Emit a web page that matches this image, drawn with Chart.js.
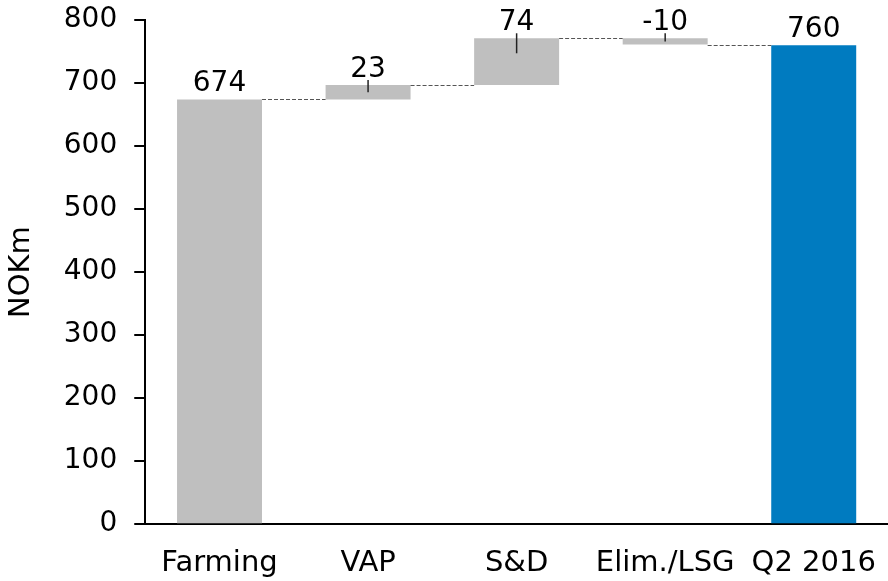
<!DOCTYPE html>
<html>
<head>
<meta charset="utf-8">
<script src="https://cdn.jsdelivr.net/npm/chart.js@4"></script>
<style>
  html, body { margin: 0; padding: 0; background: #fff; }
  #wrap { width: 888px; height: 581px; }
</style>
</head>
<body>
<div id="wrap"><canvas id="chart" width="888" height="581"></canvas></div>
<script>
// waterfall data
const categories = ['Farming', 'VAP', 'S&D', 'Elim./LSG', 'Q2 2016'];
const values = [674, 23, 74, -10, 760];
const isTotal = [true, false, false, false, true];
const barColors = ['#BFBFBF', '#BFBFBF', '#BFBFBF', '#BFBFBF', '#007BC0'];
const yTicks = [0, 100, 200, 300, 400, 500, 600, 700, 800];

const FONT = "'DejaVu Sans', sans-serif";

// build floating ranges from the running total
let running = 0;
const ranges = values.map((v, i) => {
  if (isTotal[i]) { running = v; return [0, v]; }
  const r = [running, running + v];
  running += v;
  return r;
});
const levels = ranges.map((r, i) => isTotal[i] ? r[1] : r[0] + values[i]);

const waterfallExtras = {
  id: 'waterfallExtras',
  afterDatasetsDraw(chart) {
    const ctx = chart.ctx;
    const y = chart.scales.y;
    const bars = chart.getDatasetMeta(0).data;
    ctx.save();
    // dashed connectors
    ctx.strokeStyle = '#555';
    ctx.lineWidth = 1;
    ctx.setLineDash([4, 2]);
    for (let i = 0; i < bars.length - 1; i++) {
      const yy = Math.round(y.getPixelForValue(levels[i])) + 0.5;
      ctx.beginPath();
      ctx.moveTo(bars[i].x + bars[i].width / 2, yy);
      ctx.lineTo(bars[i + 1].x - bars[i + 1].width / 2, yy);
      ctx.stroke();
    }
    ctx.setLineDash([]);
    // labels + small leader lines
    ctx.fillStyle = '#000';
    ctx.font = '28px ' + FONT;
    ctx.textAlign = 'center';
    ctx.textBaseline = 'alphabetic';
    bars.forEach((b, i) => {
      const top = y.getPixelForValue(Math.max(ranges[i][0], ranges[i][1]));
      const bot = y.getPixelForValue(Math.min(ranges[i][0], ranges[i][1]));
      if (!isTotal[i]) {
        const h = bot - top;
        ctx.strokeStyle = '#222';
        ctx.lineWidth = 1.5;
        ctx.beginPath();
        ctx.moveTo(b.x, top - 5);
        ctx.lineTo(b.x, top + Math.min(15, h / 2));
        ctx.stroke();
      }
      ctx.fillText(String(values[i]), b.x, top - 8);
    });
    ctx.restore();
  }
};

new Chart(document.getElementById('chart'), {
  type: 'bar',
  data: {
    labels: categories,
    datasets: [{
      data: ranges,
      backgroundColor: barColors,
      borderWidth: 0,
      barPercentage: 0.572,
      categoryPercentage: 1
    }]
  },
  options: {
    responsive: false,
    animation: false,
    layout: { padding: { top: 20, right: -4, left: 4, bottom: -14 } },
    plugins: { legend: { display: false }, tooltip: { enabled: false } },
    scales: {
      x: {
        afterFit: axis => { axis.paddingLeft = 0; axis.paddingRight = 0; },
        grid: { display: false },
        border: { display: true, color: '#000', width: 2 },
        ticks: { color: '#000', font: { family: FONT, size: 29 }, padding: 14, maxRotation: 0, autoSkip: false }
      },
      y: {
        min: 0,
        max: 800,
        afterBuildTicks: axis => { axis.ticks = yTicks.map(v => ({ value: v })); },
        afterFit: axis => { axis.paddingTop = 0; axis.paddingBottom = 0; },
        grid: { drawOnChartArea: false, drawTicks: true, tickLength: 11, color: '#000', lineWidth: 2 },
        border: { display: true, color: '#000', width: 2 },
        ticks: { color: '#000', font: { family: FONT, size: 28 }, padding: 17 },
        title: { display: true, text: 'NOKm', color: '#000', font: { family: FONT, size: 29 }, padding: { top: 0, bottom: 8 } }
      }
    }
  },
  plugins: [waterfallExtras]
});
</script>
</body>
</html>
